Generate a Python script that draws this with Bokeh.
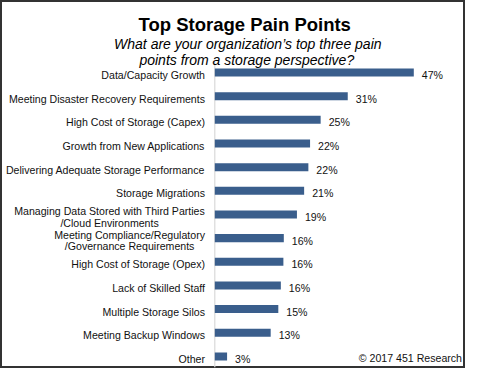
from bokeh.plotting import figure
from bokeh.models import Range1d
from bokeh.embed import file_html
from bokeh.resources import INLINE
from bokeh.core.properties import value

# ---------------- data ----------------
categories = [
    "Data/Capacity Growth",
    "Meeting Disaster Recovery Requirements",
    "High Cost of Storage (Capex)",
    "Growth from New Applications",
    "Delivering Adequate Storage Performance",
    "Storage Migrations",
    "Managing Data Stored with Third Parties\n/Cloud Environments",
    "Meeting Compliance/Regulatory\n/Governance Requirements",
    "High Cost of Storage (Opex)",
    "Lack of Skilled Staff",
    "Multiple Storage Silos",
    "Meeting Backup Windows",
    "Other",
]
values = [47.0, 31.4, 25.0, 22.5, 22.1, 21.1, 19.4, 16.3, 16.2, 15.6, 15.0, 13.2, 2.9]
value_labels = ["47%", "31%", "25%", "22%", "22%", "21%", "19%",
                "16%", "16%", "16%", "15%", "13%", "3%"]
title_text = "Top Storage Pain Points"
subtitle_lines = ["What are your organization\u2019s top three pain",
                  "points from a storage perspective?"]
source_note = "\u00a9 2017 451 Research"

# ---------------- layout ----------------
W, H = 465, 368
SY = 0.965                    # vertical compression to fit the window
ZERO_RX, PCT_R = 214.3, 4.234
ROW0_RY, STEP_R = 76.5, 24.52


def fx(rx):
    return rx


def fy(ry):
    return SY * (ry - 13.3) + 11.0


k = PCT_R
fx0 = fx(ZERO_RX)
fy0 = fy(ROW0_RY)
step = STEP_R * SY


def dx(rx):
    return (fx(rx) - fx0) / k


def dy(ry):
    return (fy(ry) - fy0) / step


FONT = value("Liberation Sans")
BAR = "#3A5E8C"
TXT = "#111111"
LABEL_PX = 10.6

# Helvetica/Arial advance widths (1/1000 em)
AW = {' ': 278, '/': 278, '(': 333, ')': 333, '%': 889,
      'A': 667, 'B': 667, 'C': 722, 'D': 722, 'E': 667, 'F': 611, 'G': 778,
      'H': 722, 'I': 278, 'L': 556, 'M': 833, 'N': 722, 'O': 778, 'P': 667,
      'R': 722, 'S': 667, 'T': 611, 'W': 944,
      'a': 556, 'b': 556, 'c': 500, 'd': 556, 'e': 556, 'f': 278, 'g': 556,
      'h': 556, 'i': 222, 'j': 222, 'k': 500, 'l': 222, 'm': 833, 'n': 556,
      'o': 556, 'p': 556, 'q': 556, 'r': 333, 's': 500, 't': 278, 'u': 556,
      'v': 500, 'w': 722, 'x': 500, 'y': 500, 'z': 500}


def text_w(s, px):
    return sum(AW.get(c, 556) for c in s) / 1000.0 * px


y_bottom = (H - fy0) / step
y_top = -fy0 / step

p = figure(width=W, height=H,
           x_range=Range1d(-fx0 / k, (W - fx0) / k),
           y_range=Range1d(y_bottom, y_top),
           output_backend="svg", toolbar_location=None,
           x_axis_location=None, y_axis_location=None,
           min_border=0, min_border_left=0, min_border_right=0,
           min_border_top=0, min_border_bottom=0,
           background_fill_color="white", border_fill_color="white")
p.grid.visible = False
p.outline_line_color = "#333333"
p.outline_line_width = 3

rows = list(range(len(categories)))

# axis line (kept inside the canvas)
p.segment(x0=[0], y0=[dy(66)], x1=[0], y1=[y_bottom - 0.05],
          line_color="#d9d9d9", line_width=1.2)

# bars
p.hbar(y=rows, left=0, right=values, height=8.3 / STEP_R,
       fill_color=BAR, line_color=None)

# category labels
GAP = 9.8
BASE = 2.5 * SY
LINE_H = 12.3 * SY
lx, ly, lt = [], [], []
for i, cat in enumerate(categories):
    lines = cat.split("\n")
    ws = [text_w(s, LABEL_PX) for s in lines]
    wb = max(ws)
    n = len(lines)
    for j, (s, w) in enumerate(zip(lines, ws)):
        lx.append(-(GAP + (wb - w) / 2.0) / k)
        ly.append(i + (BASE + (j - (n - 1) / 2.0) * LINE_H) / step)
        lt.append(s)
p.text(x=lx, y=ly, text=lt, text_align="right", text_baseline="alphabetic",
       text_font=FONT, text_font_size=f"{LABEL_PX:.2f}px", text_color=TXT)

# value labels
p.text(x=[v + 8.0 / k for v in values],
       y=[i + BASE / step for i in rows], text=value_labels,
       text_align="left", text_baseline="alphabetic",
       text_font=FONT, text_font_size=f"{LABEL_PX:.2f}px", text_color=TXT)

# title
p.text(x=[dx(244.2)], y=[dy(26.7)], text=[title_text],
       text_align="center", text_baseline="alphabetic",
       text_font=FONT, text_font_style="bold",
       text_font_size="18.5px", text_color="black")

# subtitle
p.text(x=[dx(247.3), dx(246.3)], y=[dy(47.3), dy(63.3)], text=subtitle_lines,
       text_align="center", text_baseline="alphabetic",
       text_font=FONT, text_font_style="italic",
       text_font_size="14px", text_color="black")

# source note
p.text(x=[dx(461.5)], y=[dy(372.0)], text=[source_note],
       text_align="right", text_baseline="alphabetic",
       text_font=FONT, text_font_size=f"{LABEL_PX:.2f}px", text_color=TXT)

open("out.html", "w").write(file_html(p, INLINE))
